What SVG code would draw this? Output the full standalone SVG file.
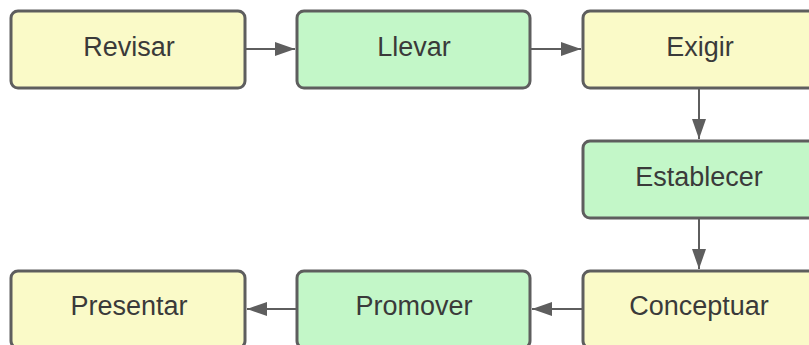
<svg xmlns="http://www.w3.org/2000/svg" width="809" height="345" viewBox="0 0 809 345">
<style>
.box{stroke:#5e5e5e;stroke-width:3}
.y{fill:#fafac8}
.g{fill:#c3f7c8}
.t{font-family:"Liberation Sans",Arial,sans-serif;font-size:27px;fill:#3a3a3a;text-anchor:middle}
.c{stroke:#5e5e5e;stroke-width:2;fill:none}
</style>
<defs>
<marker id="ah" viewBox="0 0 20 14" refX="20" refY="7" markerWidth="20" markerHeight="14" markerUnits="userSpaceOnUse" orient="auto">
<path d="M0,0 L20,7 L0,14 Z" fill="#5e5e5e"/>
</marker>
</defs>
<g id="connectors">
<line class="c" x1="246" y1="49" x2="295" y2="49" marker-end="url(#ah)"/>
<line class="c" x1="531" y1="49" x2="581" y2="49" marker-end="url(#ah)"/>
<line class="c" x1="699" y1="89" x2="699" y2="139" marker-end="url(#ah)"/>
<line class="c" x1="699" y1="219" x2="699" y2="269" marker-end="url(#ah)"/>
<line class="c" x1="582" y1="309" x2="532" y2="309" marker-end="url(#ah)"/>
<line class="c" x1="296" y1="309" x2="247" y2="309" marker-end="url(#ah)"/>
</g>
<g id="revisar"><rect class="box y" x="11" y="11" width="234" height="77" rx="7"/><text class="t" x="129" y="56">Revisar</text></g>
<g id="llevar"><rect class="box g" x="297" y="11" width="233" height="77" rx="7"/><text class="t" x="414" y="56">Llevar</text></g>
<g id="exigir"><rect class="box y" x="583" y="11" width="234" height="77" rx="7"/><text class="t" x="700" y="56">Exigir</text></g>
<g id="establecer"><rect class="box g" x="583" y="141" width="234" height="77" rx="7"/><text class="t" x="699" y="186">Establecer</text></g>
<g id="conceptuar"><rect class="box y" x="583" y="271" width="234" height="77" rx="7"/><text class="t" x="699" y="315">Conceptuar</text></g>
<g id="promover"><rect class="box g" x="297" y="271" width="233" height="77" rx="7"/><text class="t" x="414" y="315">Promover</text></g>
<g id="presentar"><rect class="box y" x="11" y="271" width="234" height="77" rx="7"/><text class="t" x="129" y="315">Presentar</text></g>
</svg>
